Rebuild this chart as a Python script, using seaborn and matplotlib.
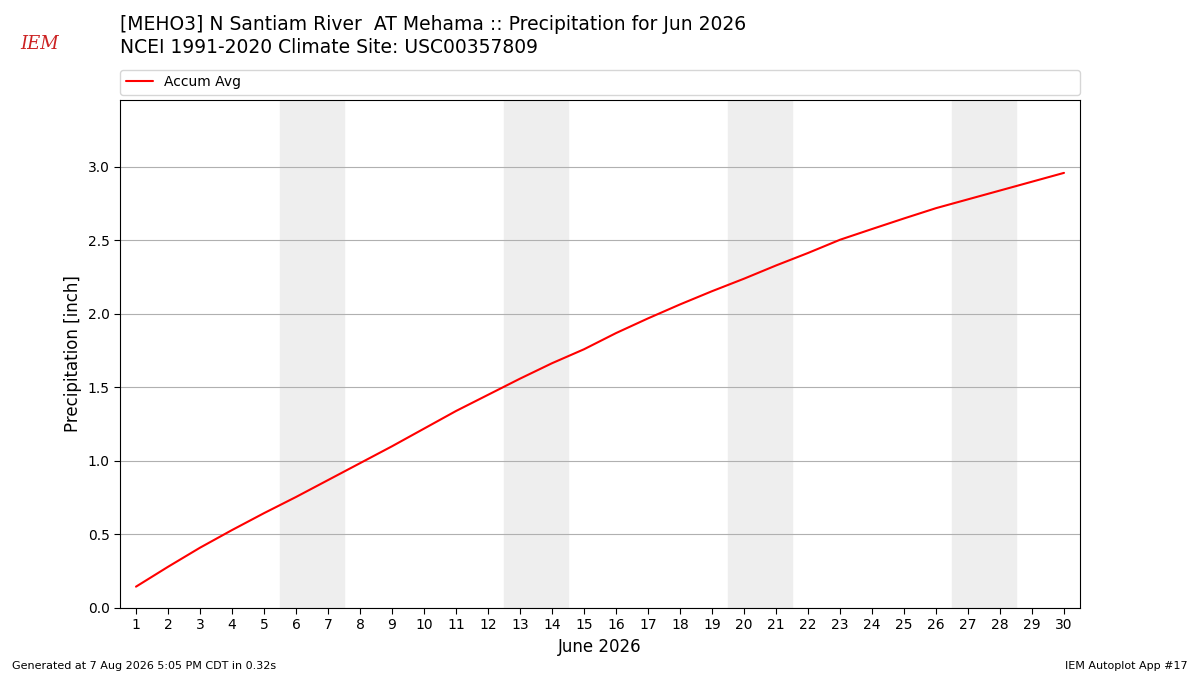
import pandas as pd
import seaborn as sns
import matplotlib.pyplot as plt

# daily accumulated average precipitation (inch)
days = list(range(1, 31))
accum_avg = [0.145, 0.28, 0.41, 0.53, 0.645, 0.755, 0.87, 0.985, 1.10, 1.22,
             1.34, 1.45, 1.56, 1.665, 1.76, 1.87, 1.97, 2.065, 2.155, 2.24,
             2.33, 2.415, 2.505, 2.578, 2.65, 2.72, 2.78, 2.84, 2.90, 2.96]
weekends = [(6, 7), (13, 14), (20, 21), (27, 28)]

df = pd.DataFrame({"day": days, "precip": accum_avg})

sns.set_style("white")
plt.rcParams["font.family"] = ["DejaVu Sans"]
plt.rcParams["text.color"] = "black"
plt.rcParams["axes.labelcolor"] = "black"
plt.rcParams["xtick.color"] = "black"
plt.rcParams["ytick.color"] = "black"

fig = plt.figure(figsize=(12, 6.75), dpi=100)
ax = fig.add_axes([0.1, 0.0993, 0.8, 0.7526])

for start, end in weekends:
    ax.axvspan(start - 0.5, end + 0.5, color="#eeeeee", zorder=0)

sns.lineplot(data=df, x="day", y="precip", color="red", lw=1.5,
             label="Accum Avg", ax=ax)

ax.set_xlim(0.5, 30.5)
ax.set_ylim(0, 3.456)
ax.set_xticks(days)
ax.set_yticks([0.0, 0.5, 1.0, 1.5, 2.0, 2.5, 3.0])
ax.yaxis.grid(True, color="#b0b0b0", lw=0.8)
ax.set_axisbelow(True)
ax.tick_params(axis="both", direction="out", length=4, width=0.8, labelsize=10,
               bottom=True, left=True)
for s in ax.spines.values():
    s.set_color("black")
    s.set_linewidth(0.8)
ax.set_xlabel("June 2026", fontsize=12)
ax.set_ylabel("Precipitation [inch]", fontsize=12)

ax.legend(loc="lower left", bbox_to_anchor=(0, 1.01, 1, 0.05), mode="expand",
          ncol=1, fontsize=10, frameon=True, borderaxespad=0)

fig.text(0.1, 0.963, "[MEHO3] N Santiam River  AT Mehama :: Precipitation for Jun 2026",
         fontsize=13.5, va="center", ha="left")
fig.text(0.1, 0.929, "NCEI 1991-2020 Climate Site: USC00357809",
         fontsize=13.5, va="center", ha="left")
fig.text(0.033, 0.935, "IEM", fontsize=13, color="#cc2222", family="serif",
         style="italic", ha="center", va="center")
fig.text(0.01, 0.014, "Generated at 7 Aug 2026 5:05 PM CDT in 0.32s",
         fontsize=8, ha="left", va="center")
fig.text(0.99, 0.014, "IEM Autoplot App #17", fontsize=8, ha="right", va="center")

fig.savefig("out.png", dpi=100)
